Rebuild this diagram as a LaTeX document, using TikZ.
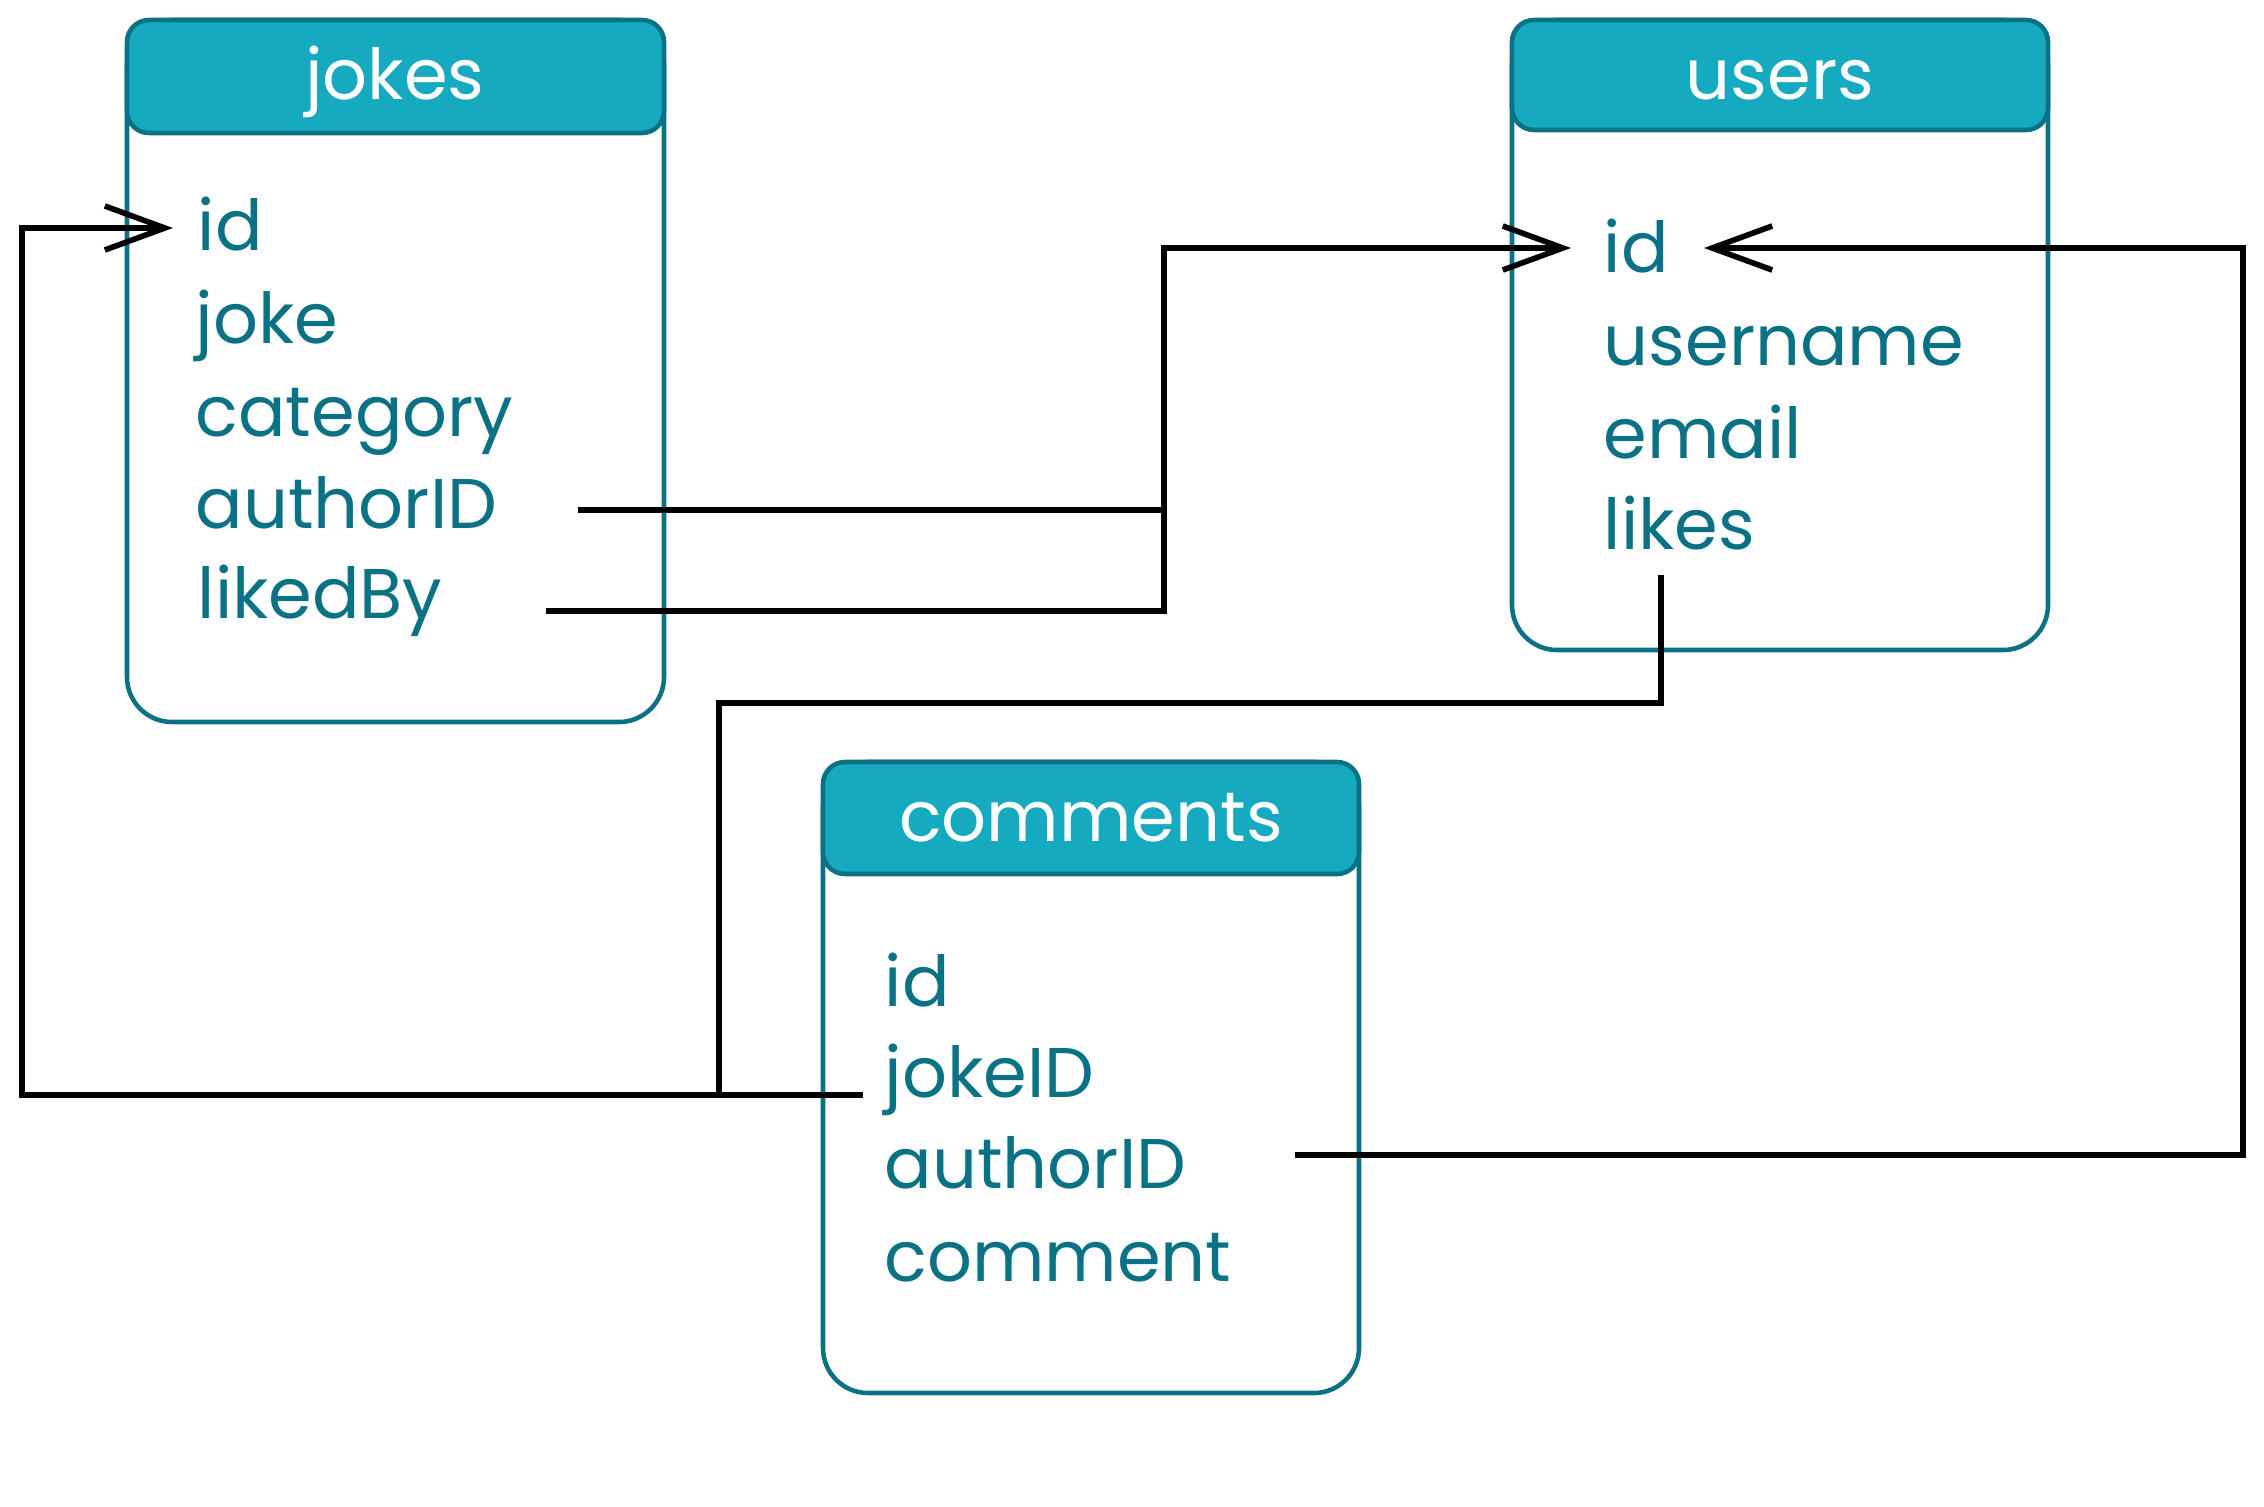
\documentclass[tikz,border=0pt]{standalone}
\usepackage{fontspec}
\setmainfont{Poppins}
\usetikzlibrary{arrows.meta,calc}
\definecolor{hdr}{HTML}{15AABF}
\definecolor{tl}{HTML}{0B7285}
\newcommand\fldfont{\fontsize{20pt}{24pt}\selectfont}
\begin{document}
\begin{tikzpicture}[x=0.01cm,y=-0.01cm,
  field/.style={anchor=base west, inner sep=0pt, text=tl, font=\fldfont},
  title/.style={anchor=center, inner sep=0pt, text=white, font=\fldfont},
  body/.style={draw=tl, line width=1.3pt, fill=white, rounded corners=0.45cm},
  head/.style={draw=tl, line width=1.3pt, fill=hdr, rounded corners=0.22cm},
  link/.style={draw=black, line width=1.6pt},
  tip/.style={-{Straight Barb[length=0.6cm,width=0.44cm,line width=1.6pt]}}]
\fill[white] (0,0) rectangle (2264,1506);
\useasboundingbox (0,0) rectangle (2264,1506);

% tables
\draw[body] (127,20) rectangle (664,722);
\draw[head] (127,20) rectangle (664,133);
\draw[body] (1512,20) rectangle (2048,650);
\draw[head] (1512,20) rectangle (2048,130);
\draw[body] (823,762) rectangle (1359,1393);
\draw[head] (823,762) rectangle (1359,874);

\node[title] (tj) at (395,82) {jokes};
\node[title] (tu) at (1780,80) {users};
\node[title] (tc) at (1091,818) {comments};

% jokes fields
\node[field] (jid) at (197,250) {id};
\node[field] (jjk) at (195,343) {joke};
\node[field] (jca) at (195,436) {category};
\node[field] (jau) at (195,528) {authorID};
\node[field] (jlb) at (197,618) {likedBy};

% users fields
\node[field] (uid) at (1603,272) {id};
\node[field] (uun) at (1603,365) {username};
\node[field] (uem) at (1603,458) {email};
\node[field] (ulk) at (1603,549) {likes};

% comments fields
\node[field] (cid) at (884,1006) {id};
\node[field] (cjk) at (884,1097) {jokeID};
\node[field] (cau) at (884,1188) {authorID};
\node[field] (ccm) at (884,1281) {comment};

% connector points
\coordinate (b1) at (1164,248);
\coordinate (b2) at (1164,510);
\coordinate (b3) at (719,703);
\coordinate (b4) at (719,1095);
\coordinate (b5) at (22,228);
\coordinate (b6) at (2243,248);

% jokes.authorID -> users.id
\draw[link,tip] ($(jau.base west)+(383,-18)$) -| (b1) -- ($(uid.base west)+(-32,-24)$);
% jokes.likedBy joins
\draw[link] ($(jlb.base west)+(349,-7)$) -| (b2);
% users.likes joins
\draw[link] ($(ulk.base west)+(58,26)$) |- (b3) -- (b4);
% comments.jokeID -> jokes.id
\draw[link,tip] ($(cjk.base west)+(-21,-2)$) -| (b5) -- ($(jid.base west)+(-24,-22)$);
% comments.authorID -> users.id
\draw[link,tip] ($(cau.base west)+(411,-33)$) -| (b6) -- ($(uid.base west)+(101,-24)$);
\end{tikzpicture}
\end{document}
